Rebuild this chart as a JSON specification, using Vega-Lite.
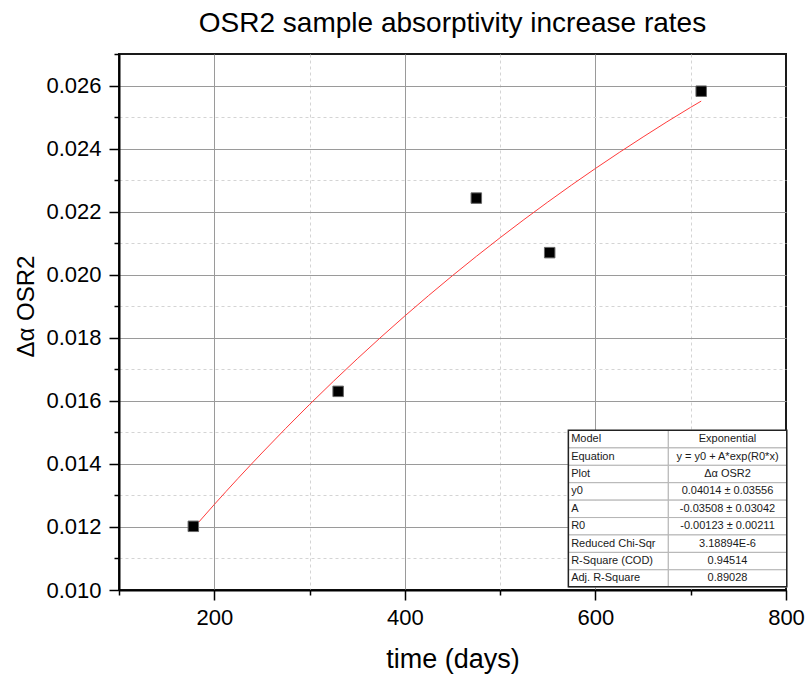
{
  "$schema": "https://vega.github.io/schema/vega-lite/v6.json",
  "width": 667,
  "height": 536,
  "autosize": {"type": "none"},
  "padding": {"left": 119, "top": 54, "right": 21, "bottom": 87},
  "background": "white",
  "config": {
    "font": "Liberation Sans",
    "view": {"stroke": "#1a1a1a", "strokeWidth": 2}
  },
  "title": {
    "text": "OSR2 sample absorptivity increase rates",
    "fontSize": 28,
    "fontWeight": "normal",
    "color": "#000000",
    "font": "Liberation Sans",
    "anchor": "middle",
    "offset": 5
  },
  "datasets": {
    "measured": [
      {"time": 178, "value": 0.01202},
      {"time": 330, "value": 0.01630},
      {"time": 475, "value": 0.02243},
      {"time": 552, "value": 0.02070},
      {"time": 711, "value": 0.02582}
    ],
    "fit": [
      {"time": 178, "value": 0.011958},
      {"time": 200, "value": 0.012712},
      {"time": 250, "value": 0.014346},
      {"time": 300, "value": 0.015885},
      {"time": 350, "value": 0.017331},
      {"time": 400, "value": 0.018692},
      {"time": 450, "value": 0.019971},
      {"time": 500, "value": 0.021174},
      {"time": 550, "value": 0.022305},
      {"time": 600, "value": 0.023369},
      {"time": 650, "value": 0.024369},
      {"time": 700, "value": 0.025310},
      {"time": 711, "value": 0.025506}
    ],
    "table": [
      {"param": "Model", "result": "Exponential"},
      {"param": "Equation", "result": "y = y0 + A*exp(R0*x)"},
      {"param": "Plot", "result": "Δα OSR2"},
      {"param": "y0", "result": "0.04014 ± 0.03556"},
      {"param": "A", "result": "-0.03508 ± 0.03042"},
      {"param": "R0", "result": "-0.00123 ± 0.00211"},
      {"param": "Reduced Chi-Sqr", "result": "3.18894E-6"},
      {"param": "R-Square (COD)", "result": "0.94514"},
      {"param": "Adj. R-Square", "result": "0.89028"}
    ]
  },
  "layer": [
    {
      "encoding": {
        "x": {
          "field": "time",
          "type": "quantitative",
          "scale": {"domain": [100, 800], "nice": false, "zero": false},
          "axis": {
            "title": "time (days)",
            "values": [100, 200, 300, 400, 500, 600, 700, 800],
            "labelExpr": "datum.value % 200 == 0 ? format(datum.value, 'd') : ''",
            "labelFontSize": 22,
            "labelColor": "#000000",
            "labelPadding": 7,
            "labelFlush": false,
            "labelOverlap": false,
            "domainColor": "#000000",
            "domainWidth": 2,
            "tickColor": "#000000",
            "tickWidth": 1.5,
            "tickSize": {"condition": {"test": "datum.value % 200 == 0", "value": 10}, "value": 5},
            "grid": true,
            "gridColor": {"condition": {"test": "datum.value % 200 == 0", "value": "#9a9a9a"}, "value": "#d4d4d4"},
            "gridDash": {"condition": {"test": "datum.value % 200 == 0", "value": []}, "value": [3, 3]},
            "gridOpacity": {"condition": {"test": "datum.value > 790 || datum.value < 110", "value": 0}, "value": 1},
            "gridWidth": 1,
            "titleFontSize": 27,
            "titleFontWeight": "normal",
            "titleColor": "#000000",
            "titleBaseline": "alphabetic",
            "titleY": 77
          }
        },
        "y": {
          "field": "value",
          "type": "quantitative",
          "scale": {"domain": [0.01, 0.027], "nice": false, "zero": false},
          "axis": {
            "title": "Δα OSR2",
            "values": [0.010, 0.011, 0.012, 0.013, 0.014, 0.015, 0.016, 0.017, 0.018, 0.019, 0.020, 0.021, 0.022, 0.023, 0.024, 0.025, 0.026, 0.027],
            "labelExpr": "(round(datum.value * 1000) % 2 == 0 && datum.value < 0.0265) ? format(datum.value, '.3f') : ''",
            "labelFontSize": 22,
            "labelColor": "#000000",
            "labelPadding": 8,
            "labelFlush": false,
            "labelOverlap": false,
            "domainColor": "#000000",
            "domainWidth": 2,
            "tickColor": "#000000",
            "tickWidth": 1.5,
            "tickSize": {"condition": {"test": "round(datum.value * 1000) % 2 == 0", "value": 10}, "value": 5},
            "grid": true,
            "gridColor": {"condition": {"test": "round(datum.value * 1000) % 2 == 0", "value": "#9a9a9a"}, "value": "#d4d4d4"},
            "gridDash": {"condition": {"test": "round(datum.value * 1000) % 2 == 0", "value": []}, "value": [3, 3]},
            "gridOpacity": {"condition": {"test": "datum.value > 0.0265 || datum.value < 0.0105", "value": 0}, "value": 1},
            "gridWidth": 1,
            "titleFontSize": 24,
            "titleFontWeight": "normal",
            "titleColor": "#000000",
            "titleBaseline": "alphabetic",
            "titleAlign": "center",
            "titleAngle": -90,
            "titleX": -86,
            "titleY": 252
          }
        }
      },
      "layer": [
        {
          "data": {"name": "fit"},
          "mark": {"type": "line", "color": "#ff3b3b", "strokeWidth": 1, "interpolate": "monotone"}
        },
        {
          "data": {"name": "measured"},
          "mark": {"type": "square", "size": 110, "fill": "#000000", "stroke": "#666666", "strokeWidth": 1, "opacity": 1}
        }
      ]
    },
    {
      "data": {"name": "table"},
      "encoding": {
        "y": {
          "field": "param",
          "type": "nominal",
          "sort": null,
          "scale": {"type": "band", "range": [376.5, 533.2], "paddingInner": 0, "paddingOuter": 0},
          "axis": null
        }
      },
      "layer": [
        {
          "mark": {"type": "rect", "fill": "#ffffff", "stroke": "#b4b4b4", "strokeWidth": 1},
          "encoding": {
            "x": {"datum": 571.6, "type": "quantitative"},
            "x2": {"datum": 676.5}
          }
        },
        {
          "mark": {"type": "rect", "fill": "#ffffff", "stroke": "#b4b4b4", "strokeWidth": 1},
          "encoding": {
            "x": {"datum": 676.5, "type": "quantitative"},
            "x2": {"datum": 800.8}
          }
        },
        {
          "mark": {"type": "text", "align": "left", "baseline": "middle", "fontSize": 11, "color": "#1a1a1a", "font": "Liberation Sans"},
          "encoding": {
            "x": {"datum": 574.5, "type": "quantitative"},
            "text": {"field": "param"}
          }
        },
        {
          "mark": {"type": "text", "align": "center", "baseline": "middle", "fontSize": 11, "color": "#1a1a1a", "font": "Liberation Sans"},
          "encoding": {
            "x": {"datum": 738.6, "type": "quantitative"},
            "text": {"field": "result"}
          }
        }
      ]
    },
    {
      "data": {"values": [{}]},
      "mark": {"type": "rect", "fill": null, "stroke": "#222222", "strokeWidth": 1.5},
      "encoding": {
        "x": {"datum": 571.6, "type": "quantitative"},
        "x2": {"datum": 800.8},
        "y": {"datum": 0.015065, "type": "quantitative", "scale": {"domain": [0.01, 0.027], "nice": false, "zero": false}, "axis": null},
        "y2": {"datum": 0.0101}
      }
    }
  ],
  "resolve": {"scale": {"y": "independent"}}
}
